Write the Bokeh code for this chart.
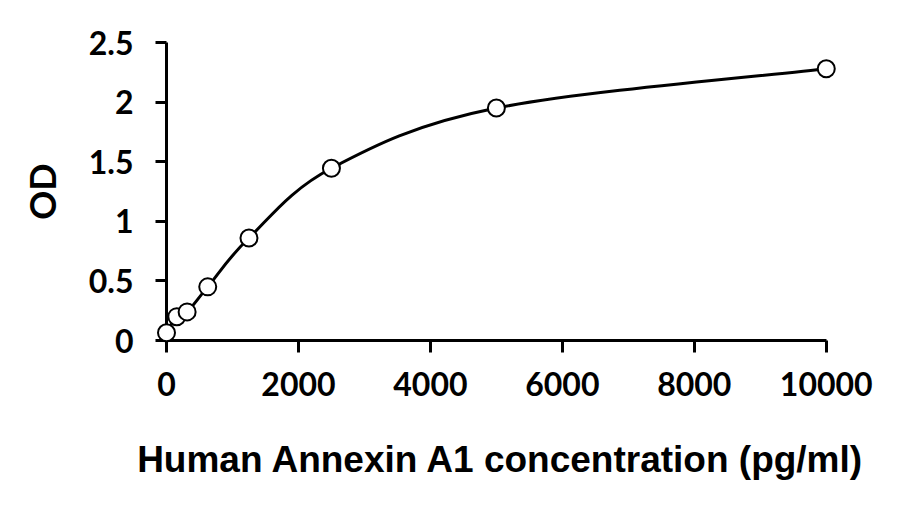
from bokeh.plotting import figure
from bokeh.models import FixedTicker, Range1d, ColumnDataSource
from bokeh.embed import file_html
from bokeh.resources import INLINE

# Data (standard curve)
concentration = [0, 156.25, 312.5, 625, 1250, 2500, 5000, 10000]
od_values = [0.065, 0.20, 0.24, 0.45, 0.86, 1.445, 1.95, 2.28]

x_ticks = [0, 2000, 4000, 6000, 8000, 10000]
x_tick_labels = ["0", "2000", "4000", "6000", "8000", "10000"]
y_ticks = [0, 0.5, 1, 1.5, 2, 2.5]
y_tick_labels = ["0", "0.5", "1", "1.5", "2", "2.5"]

x_title = "Human Annexin A1 concentration (pg/ml)"
y_title = "OD"

p = figure(width=897, height=492, output_backend="svg", toolbar_location=None,
           x_range=Range1d(0, 10140), y_range=Range1d(0, 2.5),
           min_border_left=166, min_border_right=62, min_border_top=42,
           min_border_bottom=152)
p.outline_line_color = None
p.xgrid.visible = False
p.ygrid.visible = False
p.background_fill_color = "white"
p.border_fill_color = "white"

# Smoothed line (Excel-style Bezier smoothing through the points)
n = len(concentration)
x0, y0, x1, y1, cx0, cy0, cx1, cy1 = [], [], [], [], [], [], [], []
for i in range(n - 1):
    xp, yp = (concentration[i - 1], od_values[i - 1]) if i > 0 else (concentration[i], od_values[i])
    xa, ya = concentration[i], od_values[i]
    xb, yb = concentration[i + 1], od_values[i + 1]
    xn, yn = (concentration[i + 2], od_values[i + 2]) if i + 2 < n else (xb, yb)
    x0.append(xa); y0.append(ya); x1.append(xb); y1.append(yb)
    cx0.append(xa + (xb - xp) / 6.0); cy0.append(ya + (yb - yp) / 6.0)
    cx1.append(xb - (xn - xa) / 6.0); cy1.append(yb - (yn - ya) / 6.0)

p.bezier(x0=x0, y0=y0, x1=x1, y1=y1, cx0=cx0, cy0=cy0, cx1=cx1, cy1=cy1,
         line_color="black", line_width=3, level="overlay")

src = ColumnDataSource(dict(x=concentration, y=od_values))
p.scatter("x", "y", source=src, marker="circle", size=17, fill_color="white",
          line_color="black", line_width=2, level="overlay")

tick_font = "Lato"

# X axis
xa_ = p.xaxis[0]
xa_.ticker = FixedTicker(ticks=x_ticks)
xa_.major_label_overrides = {t: l for t, l in zip(x_ticks, x_tick_labels)}
xa_.bounds = (0, 10000)
xa_.axis_line_width = 3
xa_.major_tick_line_width = 3
xa_.major_tick_out = 12
xa_.major_tick_in = 0
xa_.minor_tick_out = 0
xa_.minor_tick_in = 0
xa_.major_label_standoff = 19
xa_.major_label_text_font = tick_font
xa_.major_label_text_font_style = "bold"
xa_.major_label_text_font_size = "32px"
xa_.major_label_text_color = "black"
xa_.axis_label = x_title
xa_.axis_label_text_font = "Liberation Sans"
xa_.axis_label_text_font_style = "bold"
xa_.axis_label_text_font_size = "37px"
xa_.axis_label_text_color = "black"
xa_.axis_label_standoff = 40

# Y axis
ya_ = p.yaxis[0]
ya_.ticker = FixedTicker(ticks=y_ticks)
ya_.major_label_overrides = {t: l for t, l in zip(y_ticks, y_tick_labels)}
ya_.axis_line_width = 3
ya_.major_tick_line_width = 3
ya_.major_tick_out = 11
ya_.major_tick_in = 0
ya_.minor_tick_out = 0
ya_.minor_tick_in = 0
ya_.major_label_standoff = 22
ya_.major_label_text_font = tick_font
ya_.major_label_text_font_style = "bold"
ya_.major_label_text_font_size = "32px"
ya_.major_label_text_color = "black"
ya_.axis_label = y_title
ya_.axis_label_text_font = tick_font
ya_.axis_label_text_font_style = "bold"
ya_.axis_label_text_font_size = "36px"
ya_.axis_label_text_color = "black"
ya_.axis_label_standoff = 22

open("out.html", "w").write(file_html(p, INLINE))
